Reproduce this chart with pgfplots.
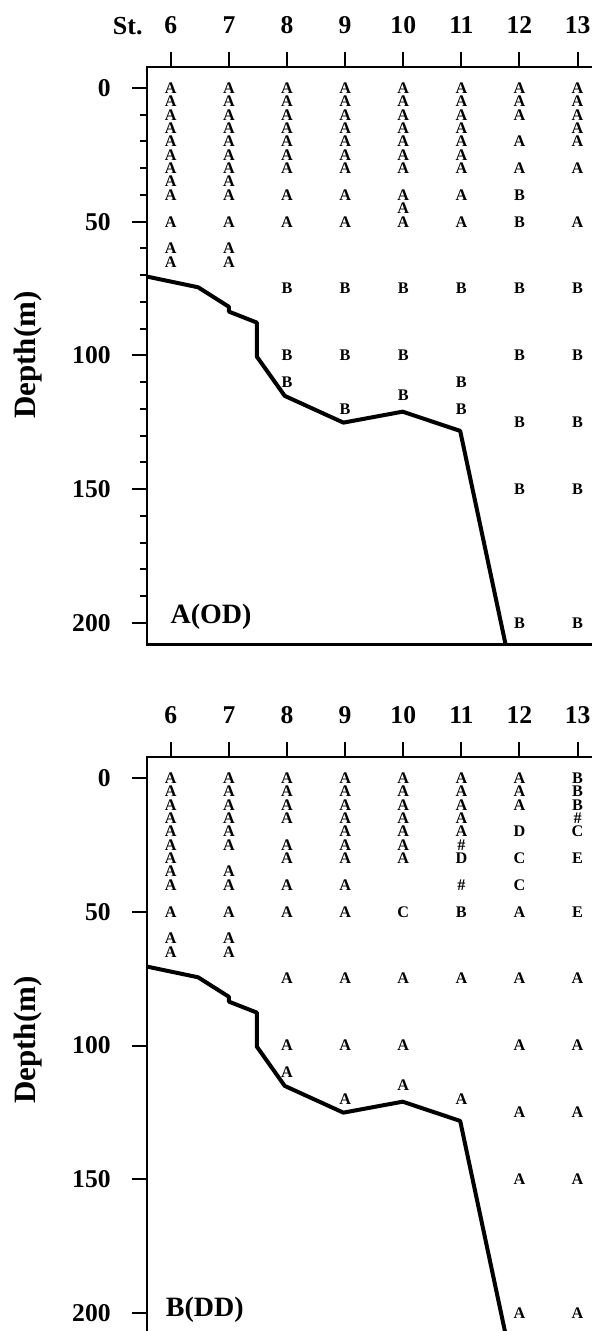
\documentclass[border=0pt]{standalone}
\usepackage{fontspec}
\setmainfont{Liberation Serif}
\usepackage{pgfplots}
\pgfplotsset{compat=1.18}
\pgfplotsset{
  panel/.style={
    scale only axis, anchor=north west,
    width=228.35pt,
    xmin=5.59, xmax=13.45, ymin=-7.85, y dir=reverse,
    clip=false,
    axis line style={line width=1.4pt},
    /pgf/number format/assume math mode=true,
    xtick={6,7,8,9,10,11,12,13},
    xtick pos=right, xticklabel pos=right,
    ytick={0,50,100,150,200}, ytick pos=left,
    tick align=outside,
    major tick length=7.5pt, minor tick length=3.5pt,
    every tick/.style={black, line width=1pt},
    tick label style={font=\fontsize{12.8}{13}\selectfont\bfseries},
    xticklabel style={anchor=south, inner sep=0pt, yshift=9pt},
    yticklabel style={anchor=east, inner sep=0pt, xshift=-10.5pt},
  },
  lab/.style={only marks, mark=none, nodes near coords, point meta=explicit symbolic,
    nodes near coords style={anchor=center, inner sep=0pt, font=\fontsize{8.1}{8}\selectfont\bfseries}},
  bound/.style={black, line width=2pt, line join=round, mark=none},
}
\begin{document}
\begin{tikzpicture}
% ---------- A(OD) ----------
\begin{axis}[panel, at={(73.5pt,-33.5pt)}, height=288.55pt, ymax=207.9,
  minor ytick={10,20,30,40,60,70,80,90,110,120,130,140,160,170,180,190}]
\addplot[bound] coordinates {(5.59,70.5) (6.47,74.5) (7.0,81.8) (7.0,83.6) (7.48,87.7) (7.48,100.4) (7.96,115.1) (8.97,125.1) (9.99,121) (10.98,128.2) (11.76,207.9)};
\addplot[lab] coordinates {
(6,0)[A] (6,5)[A] (6,10)[A] (6,15)[A] (6,20)[A] (6,25)[A] (6,30)[A] (6,35)[A] (6,40)[A] (6,50)[A] (6,60)[A] (6,65)[A]
(7,0)[A] (7,5)[A] (7,10)[A] (7,15)[A] (7,20)[A] (7,25)[A] (7,30)[A] (7,35)[A] (7,40)[A] (7,50)[A] (7,60)[A] (7,65)[A]
(8,0)[A] (8,5)[A] (8,10)[A] (8,15)[A] (8,20)[A] (8,25)[A] (8,30)[A] (8,40)[A] (8,50)[A] (8,75)[B] (8,100)[B] (8,110)[B]
(9,0)[A] (9,5)[A] (9,10)[A] (9,15)[A] (9,20)[A] (9,25)[A] (9,30)[A] (9,40)[A] (9,50)[A] (9,75)[B] (9,100)[B] (9,120)[B]
(10,0)[A] (10,5)[A] (10,10)[A] (10,15)[A] (10,20)[A] (10,25)[A] (10,30)[A] (10,40)[A] (10,45)[A] (10,50)[A] (10,75)[B] (10,100)[B] (10,115)[B]
(11,0)[A] (11,5)[A] (11,10)[A] (11,15)[A] (11,20)[A] (11,25)[A] (11,30)[A] (11,40)[A] (11,50)[A] (11,75)[B] (11,110)[B] (11,120)[B]
(12,0)[A] (12,5)[A] (12,10)[A] (12,20)[A] (12,30)[A] (12,40)[B] (12,50)[B] (12,75)[B] (12,100)[B] (12,125)[B] (12,150)[B] (12,200)[B]
(13,0)[A] (13,5)[A] (13,10)[A] (13,15)[A] (13,20)[A] (13,30)[A] (13,50)[A] (13,75)[B] (13,100)[B] (13,125)[B] (13,150)[B] (13,200)[B]
};
\node[anchor=west, inner sep=0pt, font=\fontsize{14}{14}\selectfont\bfseries] at (axis cs:5.99,197.6) {A(OD)};
\end{axis}
% ---------- B(DD) ----------
\begin{axis}[panel, at={(73.5pt,-378.5pt)}, height=298.05pt, ymax=215]
\addplot[bound] coordinates {(5.59,70.5) (6.47,74.5) (7.0,81.8) (7.0,83.6) (7.48,87.7) (7.48,100.4) (7.96,115.1) (8.97,125.1) (9.99,121) (10.98,128.2) (11.83,215)};
\addplot[lab] coordinates {
(6,0)[A] (6,5)[A] (6,10)[A] (6,15)[A] (6,20)[A] (6,25)[A] (6,30)[A] (6,35)[A] (6,40)[A] (6,50)[A] (6,60)[A] (6,65)[A]
(7,0)[A] (7,5)[A] (7,10)[A] (7,15)[A] (7,20)[A] (7,25)[A] (7,35)[A] (7,40)[A] (7,50)[A] (7,60)[A] (7,65)[A]
(8,0)[A] (8,5)[A] (8,10)[A] (8,15)[A] (8,25)[A] (8,30)[A] (8,40)[A] (8,50)[A] (8,75)[A] (8,100)[A] (8,110)[A]
(9,0)[A] (9,5)[A] (9,10)[A] (9,15)[A] (9,20)[A] (9,25)[A] (9,30)[A] (9,40)[A] (9,50)[A] (9,75)[A] (9,100)[A] (9,120)[A]
(10,0)[A] (10,5)[A] (10,10)[A] (10,15)[A] (10,20)[A] (10,25)[A] (10,30)[A] (10,50)[C] (10,75)[A] (10,100)[A] (10,115)[A]
(11,0)[A] (11,5)[A] (11,10)[A] (11,15)[A] (11,20)[A] (11,25)[\#] (11,30)[D] (11,40)[\#] (11,50)[B] (11,75)[A] (11,120)[A]
(12,0)[A] (12,5)[A] (12,10)[A] (12,20)[D] (12,30)[C] (12,40)[C] (12,50)[A] (12,75)[A] (12,100)[A] (12,125)[A] (12,150)[A] (12,200)[A]
(13,0)[B] (13,5)[B] (13,10)[B] (13,15)[\#] (13,20)[C] (13,30)[E] (13,50)[E] (13,75)[A] (13,100)[A] (13,125)[A] (13,150)[A] (13,200)[A]
};
\node[anchor=west, inner sep=0pt, font=\fontsize{14}{14}\selectfont\bfseries] at (axis cs:5.91,198.9) {B(DD)};
\end{axis}
\node[anchor=base east, inner sep=0pt, font=\fontsize{13}{13}\selectfont\bfseries] at (71.5pt,-17.5pt) {St.};
\node[rotate=90, inner sep=0pt, font=\fontsize{15.5}{16}\selectfont\bfseries] at (14pt,-177.5pt) {Depth(m)};
\node[rotate=90, inner sep=0pt, font=\fontsize{15.5}{16}\selectfont\bfseries] at (14pt,-520pt) {Depth(m)};
\pgfresetboundingbox
\useasboundingbox (0,0) rectangle (295.5pt,-665.5pt);
\end{tikzpicture}
\end{document}
